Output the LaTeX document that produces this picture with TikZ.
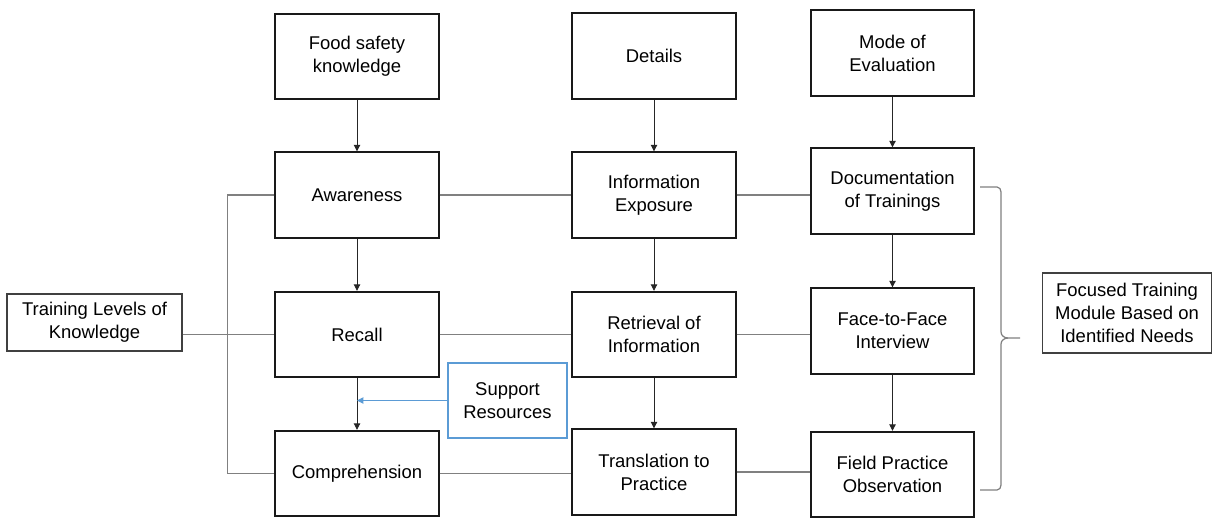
\documentclass[tikz,border=0pt]{standalone}
\usepackage{fontspec}
\setmainfont{Liberation Sans}
\usetikzlibrary{positioning,arrows.meta,calc}

\definecolor{linkgray}{HTML}{808080}
\definecolor{supportblue}{HTML}{5B9BD5}

\begin{document}
\begin{tikzpicture}[x=0.02cm,y=-0.02cm,>=Stealth,
		stage/.style={draw=black!90,line width=1.1pt,minimum width=3.27cm,minimum height=1.71cm,
			align=center,inner sep=2pt,font=\fontsize{10.5}{13}\selectfont},
		note/.style={draw=black!75,line width=0.6pt,align=center,inner sep=2pt,
			font=\fontsize{10.5}{13}\selectfont},
		link/.style={draw=linkgray,line width=0.7pt},
		flow/.style={-{Triangle[length=3.6pt,width=3.6pt]},line width=0.5pt,black!85}]
		
		\useasboundingbox (0,0) rectangle (1212,517);
		
		% Top row
		\node[stage] (food) at (357,56.5) {Food safety\\knowledge};
		\node[stage] (details) at (654,56) {Details};
		\node[stage] (mode) at (892.5,53) {Mode of\\Evaluation};
		
		% Levels, exposure, evaluation
		\node[stage] (aware) at (357,195) {Awareness};
		\node[stage] (expo) at (654,195) {Information\\Exposure};
		\node[stage] (docu) at (892.5,191) {Documentation\\of Trainings};
		
		\node[stage] (recall) at (357,334.5) {Recall};
		\node[stage] (retr) at (654,334.5) {Retrieval of\\Information};
		\node[stage] (face) at (892.5,331) {Face-to-Face\\Interview};
		
		\node[stage] (compr) at (357,473.5) {Comprehension};
		\node[stage] (transl) at (654,472) {Translation to\\Practice};
		\node[stage] (field) at (892.5,474.5) {Field Practice\\Observation};
		
		% Side notes
		\node[note,minimum width=3.5cm,minimum height=1.14cm] (levels) at (94.5,322.5) {Training Levels of\\Knowledge};
		\node[note,minimum width=3.38cm,minimum height=1.6cm] (focus) at (1127,313) {Focused Training\\Module Based on\\Identified Needs};
		\node[note,draw=supportblue,minimum width=2.38cm,minimum height=1.5cm] (support) at (507.5,400.5) {Support\\Resources};
		
		% Arrows down each column
		\draw[flow] (food) -- (aware);
		\draw[flow] (aware) -- (recall);
		\draw[flow] (recall) -- (compr);
		\draw[flow] (details) -- (expo);
		\draw[flow] (expo) -- (retr);
		\draw[flow] (retr) -- (transl);
		\draw[flow] (mode) -- (docu);
		\draw[flow] (docu) -- (face);
		\draw[flow] (face) -- (field);
		
		% Support input
		\draw[-{Triangle[length=3.6pt,width=3.6pt]},supportblue,line width=0.6pt]
		(support.west) -- (support.west -| recall);
		
		% Row links
		\draw[link] (aware) -- (expo);
		\draw[link] (expo.east) -- (expo.east -| docu.west);
		\draw[link] (recall) -- (retr);
		\draw[link] (retr.east) -- (retr.east -| face.west);
		\draw[link] (compr.east) -- (compr.east -| transl.west);
		\draw[link] (transl.east) -- (transl.east -| field.west);
		
		% Levels fork
		\draw[link] (levels.east |- recall) -- (recall.west);
		\draw[link] (aware.west) -- ++(-47,0) |- (compr.west);
		
		% Brace
		\draw[link] (980,187) -- (997,187) to[out=0,in=90] (1001,192) -- (1001,332)
		to[out=-90,in=180] (1008,338) -- (1020,338);
		\draw[link] (980,490) -- (997,490) to[out=0,in=-90] (1001,485) -- (1001,344)
		to[out=90,in=180] (1008,338);
		
	\end{tikzpicture}
\end{document}
